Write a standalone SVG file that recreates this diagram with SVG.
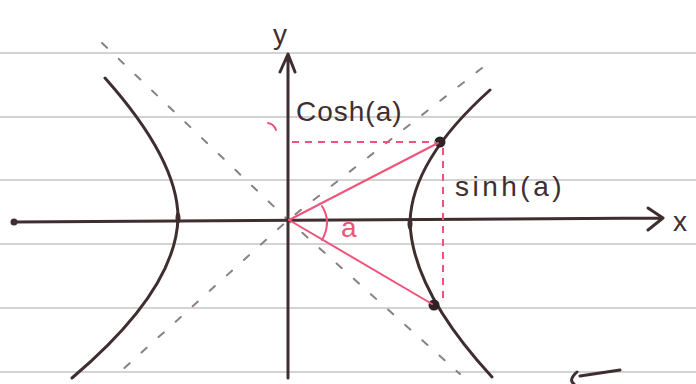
<svg xmlns="http://www.w3.org/2000/svg" width="696" height="384" viewBox="0 0 696 384">
<defs>
<style>
.rule{stroke:#a8a8a8;stroke-width:1.1;fill:none}
.ink{stroke:#3f2e2f;stroke-width:3;fill:none;stroke-linecap:round;stroke-linejoin:round}
.asym{stroke:#8a8080;stroke-width:2;fill:none;stroke-dasharray:7 16;stroke-linecap:round}
.red{stroke:#f0537a;stroke-width:2;fill:none;stroke-linecap:round}
.reddash{stroke:#f0537a;stroke-width:2;fill:none;stroke-dasharray:7 6}
.lbl{font-family:"Liberation Sans","DejaVu Sans",sans-serif;fill:#3f2e2f}
</style>
</defs>
<rect width="696" height="384" fill="#ffffff"/>
<g id="paper">
<line class="rule" x1="0" y1="53" x2="696" y2="53"/>
<line class="rule" x1="0" y1="117" x2="696" y2="117"/>
<line class="rule" x1="0" y1="180" x2="696" y2="180"/>
<line class="rule" x1="0" y1="244" x2="696" y2="244"/>
<line class="rule" x1="0" y1="308" x2="696" y2="308"/>
<line class="rule" x1="0" y1="372" x2="696" y2="372"/>
</g>
<g id="asymptotes">
<path class="asym" d="M102,43 L288,220 L460,374"/>
<path class="asym" d="M482,68 L288,220 L120,372"/>
</g>
<g id="axes">
<path class="ink" d="M288,378 L288,54 M280,72 L288,54 L295,72"/>
<path class="ink" d="M14,222 L663,218 M648,208 L663,218 L648,230"/>
<circle cx="14" cy="222" r="3.5" fill="#3f2e2f"/>
<text class="lbl" x="273" y="44" font-size="28">y</text>
<text class="lbl" x="673" y="231" font-size="28">x</text>
</g>
<g id="hyperbola-left">
<path class="ink" d="M105,78 Q 178,160 178,218 Q 176,290 72,378"/>
<ellipse cx="178" cy="218" rx="2.5" ry="6" fill="#3f2e2f"/>
</g>
<g id="hyperbola-right">
<path class="ink" d="M490,90 Q 412,160 410,222 Q 412,290 492,377"/>
<ellipse cx="410" cy="224" rx="2.5" ry="6" fill="#3f2e2f"/>
<circle cx="440" cy="142" r="5.5" fill="#2e2324"/>
<circle cx="434" cy="305" r="5.5" fill="#2e2324"/>
</g>
<g id="connectors">
<path class="red" d="M289,220 L438,143"/>
<path class="red" d="M289,220 L432,304"/>
<path class="reddash" d="M292,142 L436,142"/>
<path class="reddash" d="M443,148 L443,302"/>
<path class="red" d="M268,123 Q 274,124 276,130"/>
<path class="red" stroke-width="3" d="M322,206 Q 332,222 322,240"/>
</g>
<g id="labels">
<text class="lbl" x="296" y="121" font-size="28" letter-spacing="1">Cosh(a)</text>
<text class="lbl" x="455" y="196" font-size="28" letter-spacing="3.5">sinh(a)</text>
<text x="341" y="237" font-size="28" font-family="Liberation Sans, sans-serif" fill="#f0537a">a</text>
</g>
<g id="marks">
<path class="ink" stroke-width="2.5" d="M577,372 Q 568,380 574,384 M580,376 L620,370"/>
</g>
</svg>
